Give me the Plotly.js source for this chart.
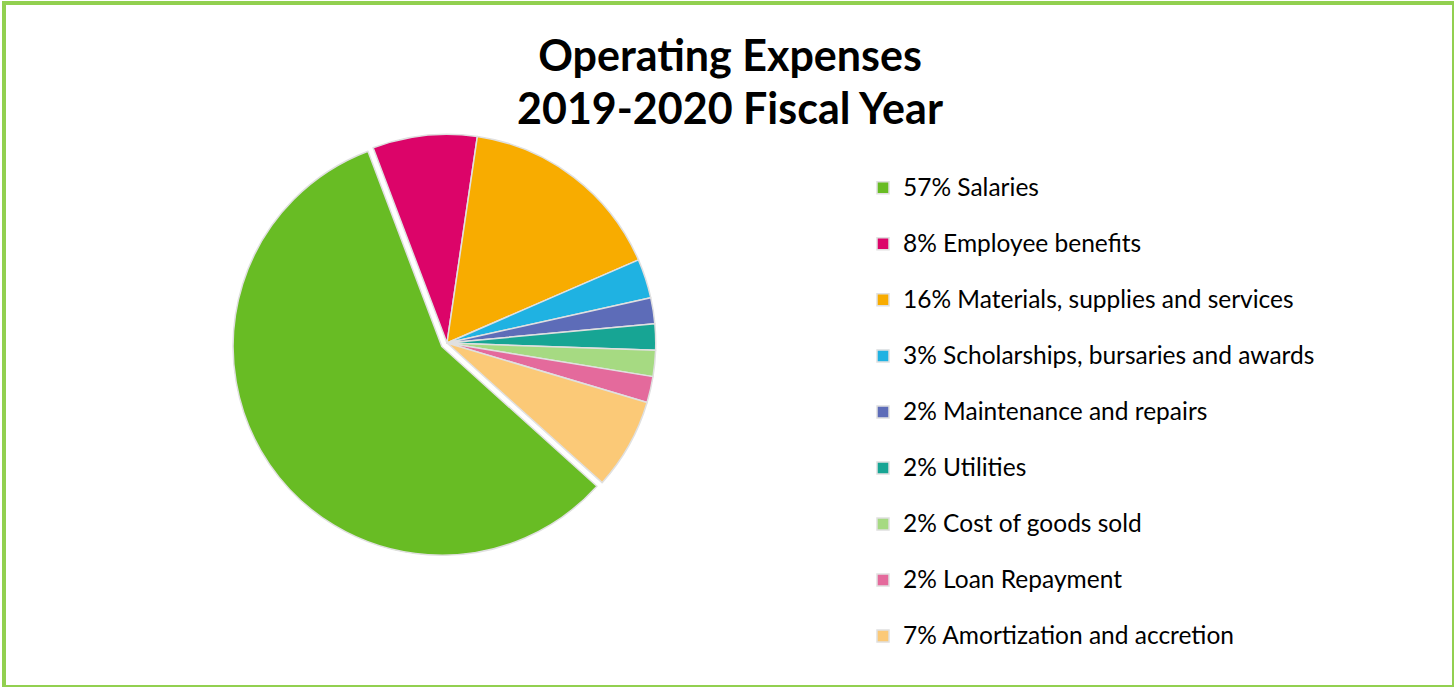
<!DOCTYPE html>
<html>
<head>
<meta charset="utf-8">
<script src="https://cdn.plot.ly/plotly-3.0.1.min.js"></script>
<style>
  html, body { margin: 0; padding: 0; background: #fff; }
  #wrap { position: relative; width: 1454px; height: 687px; }
  #chart { width: 1454px; height: 687px; }
  #frame { position: absolute; left: 2px; top: 1px; width: 1446px; height: 680px;
           border: 4px solid #92D050; pointer-events: none; }
</style>
</head>
<body>
<div id="wrap">
  <div id="chart"></div>
  <div id="frame"></div>
</div>
<script>
const categories = [
  "Salaries",
  "Employee benefits",
  "Materials, supplies and services",
  "Scholarships, bursaries and awards",
  "Maintenance and repairs",
  "Utilities",
  "Cost of goods sold",
  "Loan Repayment",
  "Amortization and accretion"
];
const percents = [57, 8, 16, 3, 2, 2, 2, 2, 7];
const colors = ["#68BC24", "#DC0469", "#F8AC00", "#1FB2E2", "#5D6CB8",
                "#17A594", "#A6DA82", "#E46A9C", "#FBC977"];
const pulls = [0.03, 0, 0, 0, 0, 0, 0, 0, 0];

const legendLabels = categories.map((c, i) =>
  "<span style='font-size:24.5px'>" + percents[i] + "% " + c + "</span><br> ");

const W = 1454, H = 687;
const cx = 447, cy = 343, half = 215;

const trace = {
  type: "pie",
  labels: legendLabels,
  values: percents,
  sort: false,
  direction: "clockwise",
  rotation: 132,
  pull: pulls,
  textinfo: "none",
  hoverinfo: "none",
  marker: { colors: colors, line: { color: "#E0E0E0", width: 1.5 } },
  domain: {
    x: [(cx - half) / W, (cx + half) / W],
    y: [1 - (cy + half) / H, 1 - (cy - half) / H]
  }
};

const layout = {
  width: W, height: H,
  margin: { l: 0, r: 0, t: 0, b: 0 },
  paper_bgcolor: "#ffffff",
  showlegend: true,
  title: {
    text: "<b><span style='font-size:43px'>Operating Expenses</span><br><span style='font-size:43px'>2019-2020 Fiscal Year</span></b>",
    font: { family: "Lato, 'Open Sans', sans-serif", size: 40.5, color: "#000" },
    x: 730 / W, xanchor: "center",
    y: 1 - 71 / H, yanchor: "middle", yref: "container"
  },
  legend: {
    x: 863 / W, xanchor: "left",
    y: 1 - 168 / H, yanchor: "top",
    valign: "top",
    font: { family: "Lato, 'Open Sans', sans-serif", size: 20.4, color: "#000" },
    bgcolor: "rgba(0,0,0,0)"
  }
};

Plotly.newPlot("chart", [trace], layout, { staticPlot: true, displayModeBar: false });
</script>
</body>
</html>
